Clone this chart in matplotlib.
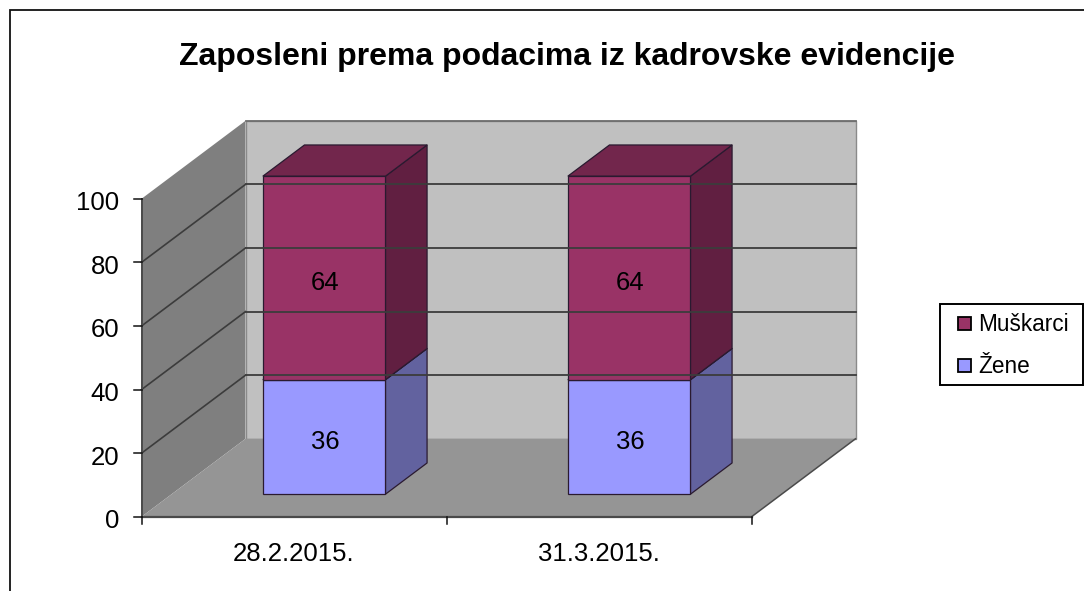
import matplotlib
matplotlib.use("Agg")
import matplotlib.pyplot as plt
from matplotlib.patches import Polygon, Rectangle

plt.rcParams['font.family'] = ['Liberation Sans', 'DejaVu Sans']

# ---- data ----
title = "Zaposleni prema podacima iz kadrovske evidencije"
categories = ["28.2.2015.", "31.3.2015."]
series_names = ["Žene", "Muškarci"]
zene = [36, 36]
muskarci = [64, 64]
y_ticks = [0, 20, 40, 60, 80, 100]

# ---- colours ----
C_ZENE = ("#9999FF", "#7A7ACC", "#62629F")
C_MUSK = ("#993366", "#72264C", "#611F41")
C_WALL, C_BACK, C_FLOOR = "#7F7F7F", "#C0C0C0", "#959595"

# ---- oblique projection: category position, value, depth (0 front .. 1 back) -> pixels ----
X0, Y0 = 141.5, 516.8
CAT_W, V_H = 305.0, 3.18
DX, DY = 104.0, -78.0
BAR_W, D0, D1 = 0.402, 0.29, 0.69


def P(c, v, d=0.0):
    return (X0 + c * CAT_W + d * DX, Y0 - v * V_H + d * DY)


fig = plt.figure(figsize=(10.84, 5.91), dpi=100)
ax = fig.add_axes([0, 0, 1, 1])
ax.set_xlim(0, 1084)
ax.set_ylim(591, 0)
ax.axis("off")

# outer frame
ax.plot([9.5, 9.5, 1084], [591, 10, 10], color="#111111", lw=1.3, solid_joinstyle="miter")

ax.text(567, 57.5, title, ha="center", va="center", fontsize=23.0, fontweight="bold", color="black")

n = len(categories)
vmax = y_ticks[-1]

# walls and floor
ax.add_patch(Polygon([P(0, 0), P(0, vmax), P(0, vmax, 1), P(0, 0, 1)], fc=C_WALL, ec="none"))
ax.add_patch(Polygon([P(0, 0, 1), P(0, vmax, 1), P(n, vmax, 1), P(n, 0, 1)], fc=C_BACK, ec="#8A8A8A", lw=1))
ax.add_patch(Polygon([P(0, 0), P(0, 0, 1), P(n, 0, 1), P(n, 0)], fc=C_FLOOR, ec="none"))

# gridlines
for v in y_ticks[1:]:
    col = "#6E6E6E" if v == vmax else "#3C3C3C"
    a, b, c = P(0, v), P(0, v, 1), P(n, v, 1)
    if v < vmax:
        ax.plot([a[0], b[0]], [a[1], b[1]], color=col, lw=1.2)
    ax.plot([b[0], c[0]], [b[1], c[1]], color=col, lw=1.3)

# floor edges and axes
ax.plot(*zip(P(n, 0), P(n, 0, 1)), color="#4A4A4A", lw=1.1)
ax.plot(*zip(P(0, 0), P(n, 0)), color="#4A4A4A", lw=1.6)
ax.plot(*zip(P(0, 0), P(0, vmax)), color="#4A4A4A", lw=1.4)

# ticks
for v in y_ticks:
    x, y = P(0, v)
    ax.plot([x - 8, x], [y, y], color="#111111", lw=1.1)
    ax.text(x - 22, y + 4.5, str(v), ha="right", va="center", fontsize=18.5, color="black")
for i in range(n + 1):
    x, y = P(i, 0)
    ax.plot([x, x], [y, y + 7], color="#111111", lw=1.1)
for i, lab in enumerate(categories):
    x, y = P(i + 0.5, 0)
    ax.text(x, y + 37, lab, ha="center", va="center", fontsize=18.5, color="black")


def box(i, lo, hi, cols, label):
    l, r = i + 0.5 - BAR_W / 2, i + 0.5 + BAR_W / 2
    ec = "#2A1A30"
    ax.add_patch(Polygon([P(r, lo, D0), P(r, lo, D1), P(r, hi, D1), P(r, hi, D0)],
                         fc=cols[2], ec=ec, lw=0.9, joinstyle="round"))
    ax.add_patch(Polygon([P(l, hi, D0), P(l, hi, D1), P(r, hi, D1), P(r, hi, D0)],
                         fc=cols[1], ec=ec, lw=0.9))
    ax.add_patch(Polygon([P(l, lo, D0), P(l, hi, D0), P(r, hi, D0), P(r, lo, D0)],
                         fc=cols[0], ec=ec, lw=0.9))
    x, y = P(i + 0.5, (lo + hi) / 2, D0)
    ax.text(x + 1, y + 5, str(label), ha="center", va="center", fontsize=18.5, color="black")


for i in range(n):
    box(i, 0, zene[i], C_ZENE, zene[i])
    box(i, zene[i], zene[i] + muskarci[i], C_MUSK, muskarci[i])

# legend
ax.add_patch(Rectangle((940, 303.5), 143, 81.5, fc="white", ec="black", lw=1.4))
for yc, name, col in [(323.3, series_names[1], C_MUSK[0]), (365.5, series_names[0], C_ZENE[0])]:
    ax.add_patch(Rectangle((957.5, yc - 6.3), 13, 12.6, fc=col, ec="black", lw=1.3))
    ax.text(978, yc + 1, name, ha="left", va="center", fontsize=16.3, color="black")

fig.savefig("out.png", dpi=100, facecolor="white")
